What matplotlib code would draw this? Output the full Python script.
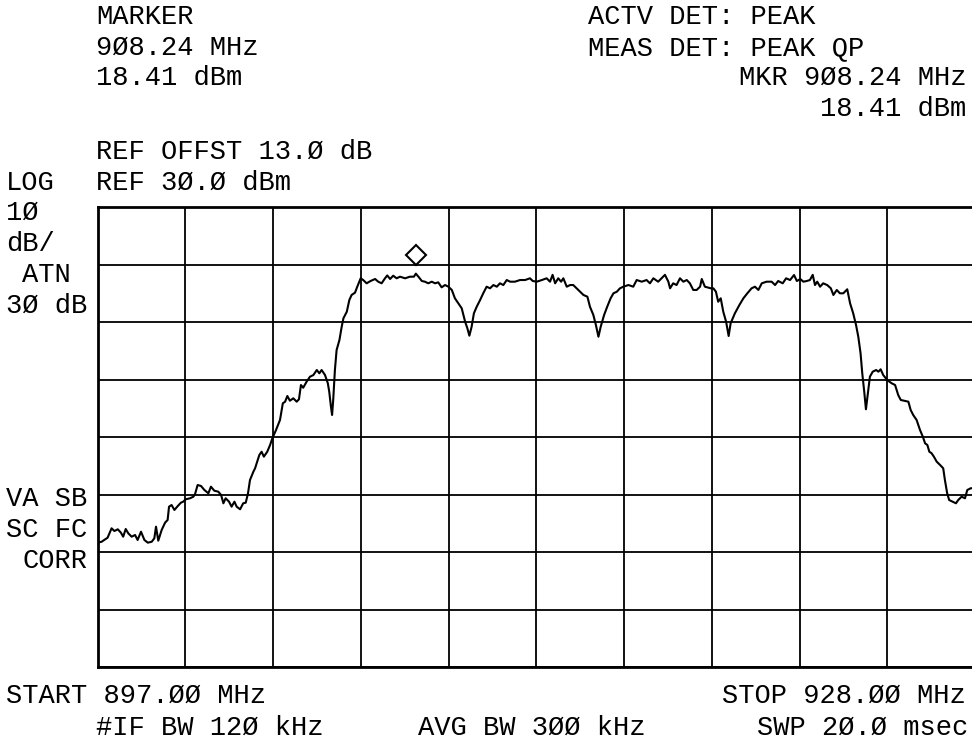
import numpy as np
import matplotlib
matplotlib.use("Agg")
import matplotlib.pyplot as plt
from matplotlib.transforms import offset_copy

# analyser settings
start_mhz = 897.0
stop_mhz = 928.0
ref_dbm = 30.0
db_per_div = 10
n_xdiv = 10
n_ydiv = 8

marker_mhz = 908.24
marker_dbm = 18.41

# trace (MHz, dBm)
freq_mhz = [
    897.00, 897.14, 897.35, 897.49, 897.59, 897.71, 897.82, 897.90, 897.99, 898.08,
    898.20, 898.32, 898.41, 898.53, 898.65, 898.77, 898.91, 899.00, 899.06, 899.14,
    899.26, 899.38, 899.47, 899.52, 899.61, 899.71, 899.83, 899.94, 900.02, 900.11,
    900.26, 900.38, 900.44, 900.53, 900.65, 900.77, 900.91, 901.00, 901.12, 901.26,
    901.36, 901.44, 901.52, 901.64, 901.73, 901.83, 901.91, 902.03, 902.14, 902.23,
    902.31, 902.38, 902.50,
    902.56, 902.71, 902.79, 902.87, 902.99, 903.09, 903.17, 903.30, 903.44, 903.54,
    903.62, 903.70, 903.79, 903.91, 904.03, 904.11, 904.18, 904.26, 904.38, 904.50,
    904.62, 904.74, 904.83, 904.91, 905.03, 905.13, 905.18, 905.24, 905.28, 905.32,
    905.38, 905.44, 905.54, 905.62, 905.68, 905.80, 905.89, 905.97, 906.09, 906.17,
    906.29, 906.38,
    906.50, 906.64, 906.80, 906.91, 907.03, 907.15, 907.23, 907.33, 907.44, 907.56,
    907.68, 907.86, 908.03, 908.17, 908.24, 908.36, 908.45, 908.56, 908.68, 908.80,
    908.92, 909.03, 909.15, 909.27, 909.39, 909.51, 909.62, 909.74, 909.86, 909.98,
    910.06, 910.13, 910.21, 910.29, 910.39, 910.51, 910.62, 910.74, 910.86, 910.98,
    911.10, 911.21, 911.33, 911.45, 911.57, 911.74, 911.92, 912.10, 912.27, 912.37,
    912.51, 912.69, 912.86, 912.98, 913.07, 913.16, 913.27, 913.37, 913.45, 913.57,
    913.69, 913.80, 913.92, 914.04, 914.16, 914.30, 914.39, 914.51, 914.60, 914.69,
    914.77, 914.89, 915.00, 915.12, 915.22, 915.34, 915.45, 915.57, 915.75, 915.92,
    916.04, 916.22, 916.39, 916.51,
    916.63, 916.80, 916.92, 917.04, 917.16, 917.22, 917.33, 917.45, 917.57, 917.69,
    917.81, 917.92, 918.04, 918.16, 918.28, 918.34, 918.45, 918.66, 918.75, 918.84,
    918.92, 919.01, 919.10, 919.20, 919.29, 919.36, 919.51, 919.67, 919.81, 919.95,
    920.10, 920.22, 920.34, 920.46, 920.63, 920.81, 920.93, 921.04, 921.20, 921.32,
    921.46, 921.60, 921.70, 921.82, 921.93, 922.05, 922.16, 922.26, 922.34, 922.42,
    922.52, 922.63, 922.77, 922.90, 922.99, 923.11, 923.22, 923.34, 923.48, 923.58,
    923.69, 923.79,
    923.87, 923.95, 924.01, 924.08, 924.14, 924.20, 924.28, 924.38, 924.50, 924.58,
    924.66, 924.75, 924.87, 924.97, 925.05, 925.17, 925.28, 925.37, 925.49, 925.64,
    925.72, 925.81, 925.93, 926.05, 926.15, 926.23, 926.31, 926.38, 926.46, 926.54,
    926.64, 926.76, 926.87, 926.93, 927.01, 927.08, 927.20, 927.32, 927.40, 927.52,
    927.64, 927.72, 927.84, 928.00,
]
level_dbm = [
    -28.38, -28.21, -27.51, -25.88, -26.35, -26.05, -26.64, -27.34, -26.00, -26.75,
    -27.34, -27.04, -27.91, -26.47, -27.91, -28.38, -28.21, -27.62, -25.60, -28.03,
    -26.17, -24.90, -24.43, -22.12, -21.83, -22.69, -22.00, -21.42, -21.25, -20.83,
    -20.66, -20.38, -19.91, -18.35, -18.52, -19.22, -19.79, -18.64, -19.34, -19.51,
    -20.09, -21.53, -20.66, -21.25, -22.12, -21.25, -22.12, -22.57, -21.53, -21.42,
    -19.79, -17.48, -16.03,
    -15.44, -13.13, -12.56, -13.42, -12.56, -11.39, -10.22, -8.78, -7.04, -4.14,
    -3.86, -2.87, -3.69, -3.27, -3.86, -3.44, -0.96, -1.43, -0.38, 0.49,
    0.78, 1.65, 1.08, 1.65, 0.78, -0.66, -2.12, -4.73, -6.17, -3.56,
    1.65, 5.13, 6.87, 9.18, 10.64, 11.79, 13.83, 14.70, 15.10, 16.14,
    17.60, 17.30,
    16.73, 17.13, 17.48, 17.01, 16.73, 17.60, 18.10, 17.48, 18.05, 17.60,
    17.88, 17.60, 17.88, 17.88, 18.41, 17.70, 17.13, 17.01, 16.73, 17.01,
    16.73, 16.90, 16.03, 16.43, 16.14, 15.57, 14.12, 13.25, 12.38, 10.05,
    8.90, 7.62, 9.18, 11.51, 12.66, 13.83, 14.99, 16.14, 15.86, 16.43,
    16.14, 16.73, 16.43, 17.30, 17.01, 17.01, 17.30, 17.30, 17.60, 17.13,
    17.01, 17.30, 17.60, 17.01, 18.20, 16.73, 17.60, 17.01, 17.60, 16.14,
    16.43, 16.43, 15.86, 15.27, 14.70, 14.40, 12.66, 11.22, 9.48, 7.44,
    9.18, 11.22, 12.66, 14.12, 14.99, 15.27, 15.86, 16.14, 16.43, 16.14,
    17.30, 17.01, 17.30, 16.73,
    17.60, 17.01, 17.60, 18.20, 17.01, 15.86, 16.73, 16.43, 17.60, 17.01,
    17.30, 16.73, 15.57, 15.57, 16.14, 17.48, 16.14, 15.86, 15.86, 15.27,
    13.53, 14.12, 11.79, 10.05, 7.57, 9.77, 11.51, 12.96, 14.12, 14.99,
    15.86, 16.14, 15.57, 16.73, 17.01, 17.01, 16.43, 17.13, 16.73, 17.60,
    17.30, 18.17, 17.13, 17.48, 17.01, 17.13, 17.30, 18.20, 16.43, 17.01,
    16.14, 16.73, 16.43, 15.86, 14.70, 15.57, 14.99, 14.99, 15.69, 13.25,
    11.51, 9.48,
    7.44, 4.56, 1.08, -2.12, -5.18, -2.70, 0.49, 1.36, 1.65, 1.36,
    1.77, 0.78, 0.04, -0.38, -0.66, -0.96, -2.70, -3.56, -3.69, -3.86,
    -5.30, -6.17, -7.04, -8.78, -9.95, -11.10, -11.39, -12.56, -12.83, -13.42,
    -14.29, -14.87, -15.44, -17.48, -19.79, -20.96, -21.25, -21.53, -20.96, -20.38,
    -20.66, -19.22, -18.92, -18.87,
]

W, H = 972, 746
fig = plt.figure(figsize=(W / 100, H / 100), dpi=100)
fig.patch.set_facecolor("white")

# plot area, right edge runs just past the picture like in the screen dump
ax = fig.add_axes([97.7 / W, 79 / H, 877.5 / W, 460 / H])
ax.plot(freq_mhz, level_dbm, color="black", lw=1.5, zorder=3)

ax.set_xlim(start_mhz, stop_mhz)
ax.set_ylim(ref_dbm - db_per_div * n_ydiv, ref_dbm)
ax.set_xticks(np.linspace(start_mhz, stop_mhz, n_xdiv + 1))
ax.set_yticks(np.linspace(ref_dbm - db_per_div * n_ydiv, ref_dbm, n_ydiv + 1))
ax.tick_params(length=0, labelbottom=False, labelleft=False)
ax.grid(True, color="black", lw=1.3)
for sp in ax.spines.values():
    sp.set_linewidth(2)
    sp.set_color("black")

# marker diamond sits just above the marked point
mk_trans = offset_copy(ax.transData, fig=fig, x=0, y=13.5, units="points")
ax.plot([marker_mhz], [marker_dbm], marker="D", ms=10, mfc="white", mec="black",
        mew=1.5, transform=mk_trans, clip_on=False, zorder=4)

FONT = "Liberation Mono"
FS = 19.5


def label(x, y, s, ha="left"):
    fig.text(x / W, 1 - y / H, s, ha=ha, va="baseline", fontsize=FS,
             family=FONT, color="black")


# header
label(96, 24, "MARKER")
label(96, 55, "9Ø8.24 MHz")
label(96, 85, "18.41 dBm")
label(588, 24, "ACTV DET: PEAK")
label(588, 55, "MEAS DET: PEAK QP")
label(966, 85, "MKR 9Ø8.24 MHz", ha="right")
label(966, 116, "18.41 dBm", ha="right")
label(96, 159, "REF OFFST 13.Ø dB")
label(96, 190, "REF 3Ø.Ø dBm")

# left side labels
label(6, 190, "LOG")
label(6, 220, "1Ø")
label(6, 251, "dB/")
label(22, 282, "ATN")
label(6, 313, "3Ø dB")
label(6, 506, "VA SB")
label(6, 537, "SC FC")
label(22, 568, "CORR")

# footer
label(6, 703, "START 897.ØØ MHz")
label(966, 703, "STOP 928.ØØ MHz", ha="right")
label(96, 735, "#IF BW 12Ø kHz")
label(532, 735, "AVG BW 3ØØ kHz", ha="center")
label(968, 735, "SWP 2Ø.Ø msec", ha="right")

fig.savefig("out.png", dpi=100, facecolor="white")
